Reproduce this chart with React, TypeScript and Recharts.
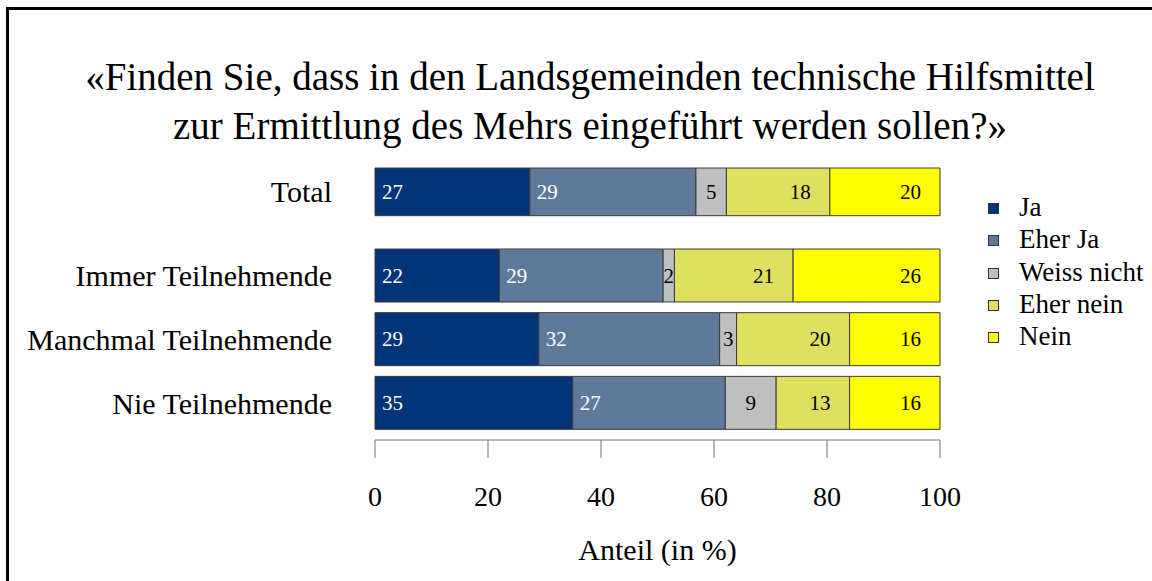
import React from "react"
import { BarChart, Bar, XAxis, YAxis, LabelList } from "recharts"

const SERIF = "'Liberation Serif', 'Times New Roman', serif"

const totalCategory = ["Total"]
const groupCategories = ["Immer Teilnehmende", "Manchmal Teilnehmende", "Nie Teilnehmende"]

const seriesNames = ["Ja", "Eher Ja", "Weiss nicht", "Eher nein", "Nein"]
const seriesKeys = ["ja", "eherJa", "weiss", "eherNein", "nein"]
const seriesColors = ["#02347a", "#5f799b", "#bfbfbf", "#dfdf60", "#ffff00"]
const labelColors = ["#ffffff", "#ffffff", "#000000", "#000000", "#000000"]
const labelModes = ["start", "start", "center", "end", "end"]

// Total, Immer, Manchmal, Nie
const ja = [27.4, 22, 29, 35]
const eherJa = [29.4, 29, 32, 27]
const weiss = [5.4, 2, 3, 9]
const eherNein = [18.3, 21, 20, 13]
const nein = [19.5, 26, 16, 16]

const xTicks = [0, 20, 40, 60, 80, 100]

const allValues = [ja, eherJa, weiss, eherNein, nein]

function rows(names: string[], offset: number) {
  return names.map((name, i) => {
    const row: Record<string, string | number> = { name }
    seriesKeys.forEach((k, s) => {
      row[k] = allValues[s][i + offset]
    })
    return row
  })
}

const totalData = rows(totalCategory, 0)
const groupData = rows(groupCategories, 1)

function makeLabel(s: number) {
  return (props: any) => {
    const { x, y, width, height, value } = props
    const mode = labelModes[s]
    let tx = x + width / 2
    let anchor: "start" | "middle" | "end" = "middle"
    if (mode === "start") {
      tx = x + 7
      anchor = "start"
    } else if (mode === "end") {
      tx = x + width - 19
      anchor = "end"
    }
    return (
      <text
        x={tx}
        y={y + height / 2 + 7}
        textAnchor={anchor}
        fill={labelColors[s]}
        fontSize={21}
        fontFamily={SERIF}
      >
        {Math.round(Number(value))}
      </text>
    )
  }
}

function renderBars() {
  return seriesKeys.map((k, s) => (
    <Bar
      key={k}
      dataKey={k}
      name={seriesNames[s]}
      stackId="a"
      fill={seriesColors[s]}
      stroke="#3a3a3a"
      strokeWidth={1}
      barSize={53}
      isAnimationActive={false}
    >
      <LabelList dataKey={k} content={makeLabel(s)} />
    </Bar>
  ))
}

const yTick = { fontSize: 30, fill: "#000", fontFamily: SERIF }

export default function App() {
  return (
    <div
      style={{
        position: "fixed",
        left: 0,
        top: 0,
        width: 1152,
        height: 581,
        overflow: "hidden",
        background: "#fff",
      }}
    >
      <div
        style={{
          position: "absolute",
          left: 6,
          top: 7,
          width: 2000,
          height: 2000,
          borderLeft: "3px solid #000",
          borderTop: "3px solid #000",
        }}
      />
      <div
        style={{
          position: "absolute",
          left: 28,
          top: 52,
          width: 1124,
          textAlign: "center",
          fontFamily: SERIF,
          fontSize: 39,
          lineHeight: "49px",
          color: "#000",
        }}
      >
        «Finden Sie, dass in den Landsgemeinden technische Hilfsmittel
        <br />
        zur Ermittlung des Mehrs eingeführt werden sollen?»
      </div>

      <div style={{ position: "absolute", left: 0, top: 0 }}>
        <BarChart
          width={1152}
          height={581}
          data={totalData}
          layout="vertical"
          margin={{ top: 165, right: 212, bottom: 363, left: 0 }}
        >
          <XAxis type="number" domain={[0, 100]} hide />
          <YAxis
            type="category"
            dataKey="name"
            width={375}
            axisLine={false}
            tickLine={false}
            tickSize={6}
            tickMargin={37}
            tick={yTick}
          />
          {renderBars()}
        </BarChart>
      </div>

      <div style={{ position: "absolute", left: 0, top: 0 }}>
        <BarChart
          width={1152}
          height={581}
          data={groupData}
          layout="vertical"
          margin={{ top: 244, right: 212, bottom: 81, left: 0 }}
        >
          <XAxis
            type="number"
            domain={[0, 100]}
            ticks={xTicks}
            height={60}
            tickSize={18}
            tickMargin={28}
            axisLine={{ stroke: "#707070" }}
            tickLine={{ stroke: "#707070" }}
            tick={{ fontSize: 28, fill: "#000", fontFamily: SERIF }}
            label={(p: any) => {
              const vb = p.viewBox || {}
              return (
                <text
                  x={vb.x + vb.width / 2}
                  y={560}
                  textAnchor="middle"
                  fontSize={30}
                  fontFamily={SERIF}
                  fill="#000"
                >
                  Anteil (in %)
                </text>
              )
            }}
          />
          <YAxis
            type="category"
            dataKey="name"
            width={375}
            padding={{ top: 0, bottom: 5 }}
            axisLine={false}
            tickLine={false}
            tickSize={6}
            tickMargin={37}
            tick={yTick}
          />
          {renderBars()}
        </BarChart>
      </div>

      <div style={{ position: "absolute", left: 988, top: 191 }}>
        {seriesNames.map((n, s) => (
          <div key={n} style={{ position: "relative", height: 32.3 }}>
            <div
              style={{
                position: "absolute",
                left: 0,
                top: 12,
                width: 9,
                height: 9,
                background: seriesColors[s],
                border: "1px solid #333",
              }}
            />
            <div
              style={{
                position: "absolute",
                left: 31,
                top: 0,
                whiteSpace: "nowrap",
                fontFamily: SERIF,
                fontSize: 27,
                lineHeight: "32.3px",
                color: "#000",
              }}
            >
              {n}
            </div>
          </div>
        ))}
      </div>
    </div>
  )
}
